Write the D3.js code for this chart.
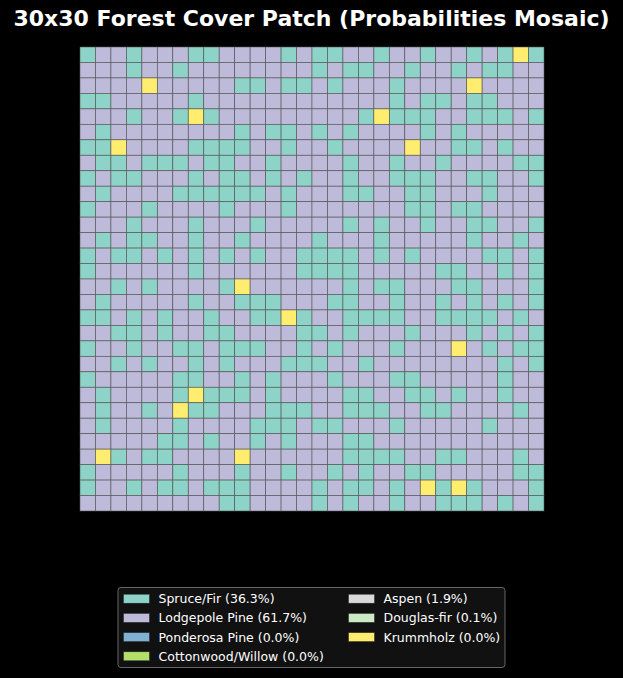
<!DOCTYPE html>
<html>
<head>
<meta charset="utf-8">
<script src="https://cdn.jsdelivr.net/npm/d3@7"></script>
<style>
  html, body { margin: 0; padding: 0; background: #000; }
  svg { display: block; }
</style>
</head>
<body>
<script>
// ---- data ----
const title = "30x30 Forest Cover Patch (Probabilities Mosaic)";
const categories = ["Spruce/Fir", "Lodgepole Pine", "Ponderosa Pine", "Cottonwood/Willow", "Aspen", "Douglas-fir", "Krummholz"];
const categoryCodes = ["T", "L", "P", "C", "A", "D", "Y"];
const shares = [36.3, 61.7, 0.0, 0.0, 1.9, 0.1, 0.0];
const palette = ["#8dd3c7", "#bebada", "#80b1d3", "#b3de69", "#d9d9d9", "#ccebc5", "#ffed6f"];
// each row: one character per cell (code of the dominant cover type)
const gridRows = [
  "TLLTLLLTTLLLLTLTTLLTLLTLLTLTYT",
  "LLLTLLTLLLLLLLLTLTTLLTLLTLTTLL",
  "LLLLYLLLLLTTLTTLTLLLTLLLLYLLLL",
  "TTLLLLLTLLLLLLLLLLLLTLTTLTTLLL",
  "LLLTLLTYTLLLLLLLLLTYTTTLLTTTLT",
  "LTLLLLLLLLTLTTLTLTLLLLTLTLLLLL",
  "TTYLLLLTTTTLLTLLTLLLLYLLTTLTLL",
  "LTTLTTTLTTLLTLLLLTLLTLLTLLLLTT",
  "TLTTLLLTLTTLTLTLLTLLTTTLLTTLLT",
  "LTLLLLTTTTTTLTLLLTTLLTTLLLTLLL",
  "TLLLTLLLLTLLLTLLLLLLLTTLTTLLLL",
  "LLLTLLLTLLLTLLLLLTLTLLTLLTTLLT",
  "LTLTTLLTLLTLLLLTLLLTLLLLLTLLTL",
  "TLTTLTLTLTLTLLTTTTLTLTLLLLTTLT",
  "TLLLLLLTLLLLLLTTTTLLLLLTTLLTLT",
  "LLTLTLLLLTYLLLLLLTLTTLLLTTLLLT",
  "LTLLLLLTLLTTTLLLTTLLTLLTLTLTLT",
  "TTLTLTLLTLLTTYTLLTTTTLLTTTTLTL",
  "LLTTLTLLTTLLLLTTLTLLLTLLLTLTLT",
  "TLLTLLTTLTTTLLTLTLLLTLLLYLTLTT",
  "LLTLTLLTLTLLLTTTLLTLLLLLLLLTLT",
  "TLLLLLTTLLTLTLLLTLLLTTLLLLLTLL",
  "LTLLLLTYTTTLTLLLLTTLLTTLTLLTLL",
  "LTLLTLYTTLLLTTTLLTTTLLTTLLLLTL",
  "LTLLLLTLLLLTTTLTTLLLTLLLLLTLLL",
  "LLLLLTTLTLLTLTLLLTTLLLLLLLLLLL",
  "LYTLTTLLLLYLLLLLLTTTTLLTTLLLTL",
  "TLLLLLTLLLTLLTLLTLTLLTTLLLLLTT",
  "TLLTLTTLTTTLLLLTLTTLTLYTYTLLLT",
  "LLLLLLLLLTTLLLLTLTLLTLLTTTLTLT"
];

// ---- layout ----
const W = 623, H = 678;
const gridLeft = 80, gridTop = 47, gridSize = 464;
const nCols = 30, nRows = gridRows.length;

const svg = d3.select("body").append("svg")
  .attr("width", W).attr("height", H);
svg.append("rect").attr("width", W).attr("height", H).attr("fill", "#000");

svg.append("text")
  .attr("x", W / 2).attr("y", 26)
  .attr("text-anchor", "middle")
  .attr("fill", "#ffffff")
  .attr("font-family", "DejaVu Sans")
  .attr("font-weight", "bold")
  .attr("font-size", "22px")
  .text(title);

const x = d3.scaleBand().domain(d3.range(nCols)).range([gridLeft, gridLeft + gridSize]).padding(0);
const y = d3.scaleBand().domain(d3.range(nRows)).range([gridTop, gridTop + gridSize]).padding(0);
const color = d3.scaleOrdinal().domain(categoryCodes).range(palette);

const cells = [];
gridRows.forEach((row, r) => {
  row.split("").slice(0, nCols).forEach((code, c) => cells.push({ r, c, code }));
});

svg.append("g").selectAll("rect")
  .data(cells)
  .join("rect")
  .attr("x", d => x(d.c))
  .attr("y", d => y(d.r))
  .attr("width", x.bandwidth())
  .attr("height", y.bandwidth())
  .attr("fill", d => color(d.code))
  .attr("stroke", "#555")
  .attr("stroke-opacity", 0.8)
  .attr("stroke-width", 0.7);

// ---- legend ----
const legend = svg.append("g");
legend.append("rect")
  .attr("x", 118).attr("y", 587.5)
  .attr("width", 387).attr("height", 80)
  .attr("rx", 3).attr("ry", 3)
  .attr("fill", "#111111")
  .attr("stroke", "#666")
  .attr("stroke-width", 1);

const legendItems = categories.map((name, i) => ({
  name, share: shares[i], col: palette[i],
  colIdx: i < 4 ? 0 : 1, rowIdx: i < 4 ? i : i - 4
}));
const colX = [123.5, 348.5];
const rowY = d3.scaleLinear().domain([0, 3]).range([598.7, 656.3]);

const li = legend.selectAll("g.item").data(legendItems).join("g").attr("class", "item");
li.append("rect")
  .attr("x", d => colX[d.colIdx])
  .attr("y", d => rowY(d.rowIdx) - 4.5)
  .attr("width", 26).attr("height", 9)
  .attr("fill", d => d.col)
  .attr("stroke", "#222").attr("stroke-width", 0.5);
li.append("text")
  .attr("x", d => colX[d.colIdx] + 35)
  .attr("y", d => rowY(d.rowIdx) + 4.5)
  .attr("fill", "#ffffff")
  .attr("font-family", "DejaVu Sans")
  .attr("font-size", "12.5px")
  .text(d => `${d.name} (${d.share.toFixed(1)}%)`);
</script>
</body>
</html>
